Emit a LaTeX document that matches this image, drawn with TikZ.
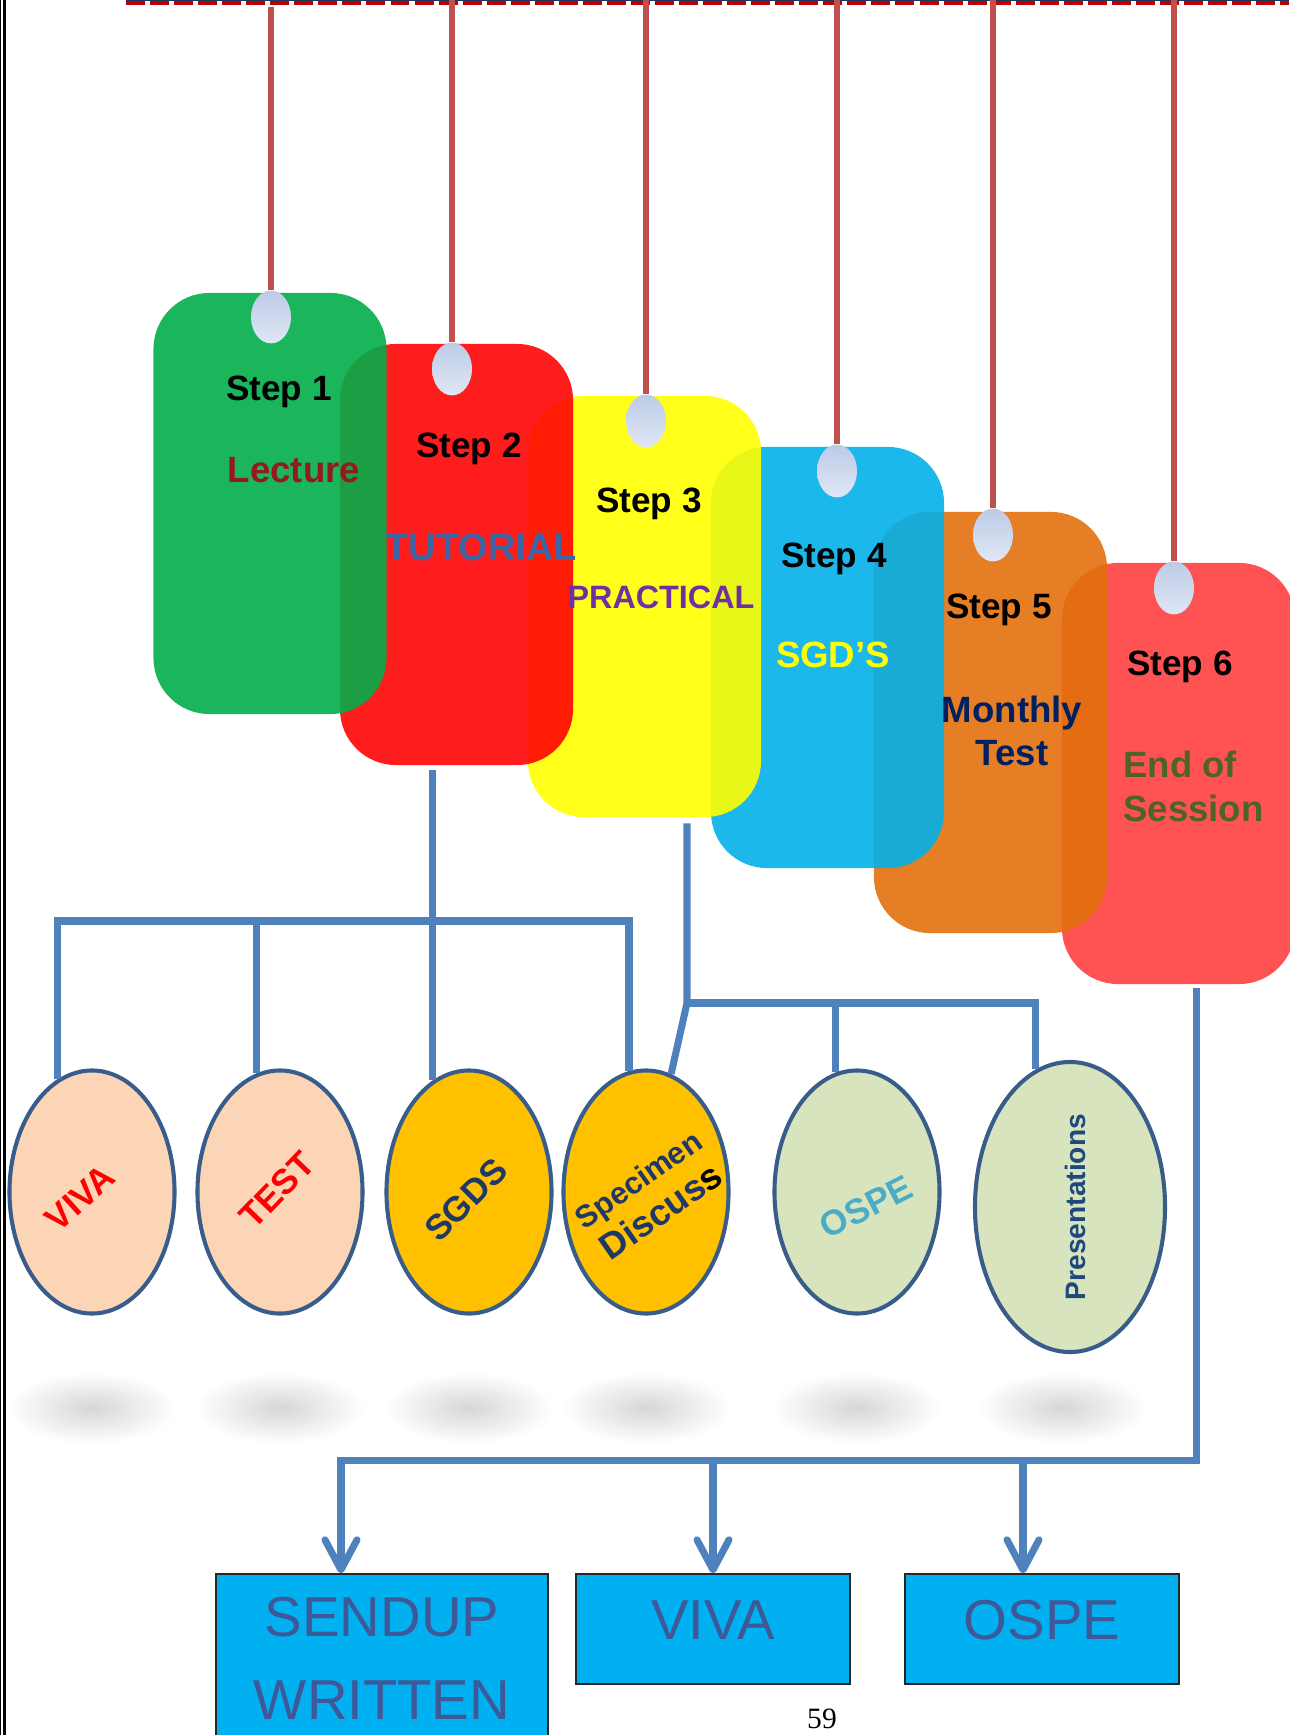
\documentclass[tikz,border=0pt]{standalone}
\usepackage{fontspec}
\setmainfont{Liberation Sans}
\newfontfamily\pagefont{Liberation Serif}
\usepackage{xcolor}
\usetikzlibrary{shapes,arrows.meta,positioning,calc}

\definecolor{tagGreen}{RGB}{2,173,74}
\definecolor{tagRed}{RGB}{255,3,3}
\definecolor{tagYellow}{RGB}{255,255,0}
\definecolor{tagCyan}{RGB}{3,176,234}
\definecolor{tagOrange}{RGB}{226,112,12}
\definecolor{tagRose}{RGB}{255,63,63}
\definecolor{holeTop}{RGB}{188,203,230}
\definecolor{holeBot}{RGB}{224,231,245}
\definecolor{strRed}{RGB}{192,80,77}
\definecolor{railRed}{RGB}{192,0,0}
\definecolor{railNavy}{RGB}{31,56,100}
\definecolor{lectRed}{RGB}{150,24,32}
\definecolor{tutBlue}{RGB}{62,102,165}
\definecolor{pracPurple}{RGB}{112,48,160}
\definecolor{navyTxt}{RGB}{0,32,96}
\definecolor{oliveTxt}{RGB}{79,98,40}
\definecolor{bubNavy}{RGB}{31,56,100}
\definecolor{ospeTeal}{RGB}{75,172,198}
\definecolor{presNavy}{RGB}{31,73,125}
\definecolor{linkBlue}{RGB}{79,129,189}
\definecolor{bubEdge}{RGB}{56,93,138}
\definecolor{peach}{RGB}{251,213,181}
\definecolor{amber}{RGB}{255,192,0}
\definecolor{sage}{RGB}{215,228,189}
\definecolor{resultFill}{RGB}{0,176,240}
\definecolor{boxText}{RGB}{62,88,152}

\begin{document}
\begin{tikzpicture}[
  x=0.025cm, y=-0.025cm,
  tagbox/.style={rectangle, rounded corners=1.4cm, minimum width=5.825cm,
                 minimum height=10.525cm, inner sep=0pt, fill opacity=0.9},
  hole/.style={ellipse, minimum width=1cm, minimum height=1.32cm, inner sep=0pt,
               top color=holeTop, bottom color=holeBot},
  cord/.style={draw=strRed, line width=4.2pt},
  steplabel/.style={anchor=base, inner sep=0pt, font=\fontsize{25}{30}\selectfont\bfseries},
  topic/.style={anchor=base, inner sep=0pt, font=\fontsize{26}{31}\selectfont\bfseries},
  bubble/.style={ellipse, draw=bubEdge, line width=2.9pt, minimum width=4.125cm,
                 minimum height=6.075cm, inner sep=0pt},
  bubtext/.style={inner sep=0pt, font=\fontsize{25}{30}\selectfont\bfseries},
  link/.style={draw=linkBlue, line width=5pt},
  feed/.style={link, -{Straight Barb[length=0.75cm, width=0.8cm, round]}},
  resultbox/.style={rectangle, draw=black!85, line width=0.9pt, fill=resultFill,
                    minimum width=6.85cm, minimum height=2.75cm, inner sep=0pt,
                    align=center, text=boxText, font=\fontsize{40}{59}\selectfont},
]
  \useasboundingbox (0,0) rectangle (1289,1735);

  % Page rule (left) and hanging rail (top)
  \draw[black, line width=0.7pt] (0.7,0) -- (0.7,1735);
  \draw[black, line width=1.8pt] (4.5,0) -- (4.5,1735);
  \draw[railNavy, line width=0.8pt] (126,0.5) -- (1289,0.5);
  \draw[railRed, line width=2.8pt, dash pattern=on 13.5pt off 3.6pt] (126,3) -- (1289,3);

  % Tags, back to front
  \node[tagbox, fill=tagRose]   (tag6) at (1178.5,773.5) {};
  \node[tagbox, fill=tagOrange] (tag5) at (990.5,722.5) {};
  \node[tagbox, fill=tagCyan]   (tag4) at (827.5,657.5) {};
  \node[tagbox, fill=tagYellow] (tag3) at (644.5,606.5) {};
  \node[tagbox, fill=tagRed]    (tag2) at (456.5,554.5) {};
  \node[tagbox, fill=tagGreen]  (tag1) at (270,503.5) {};

  % Strings and holes
  \coordinate (pin1) at (271,7);
  \coordinate (pin2) at (452,0);
  \coordinate (pin3) at (646,0);
  \coordinate (pin4) at (837,0);
  \coordinate (pin5) at (993,0);
  \coordinate (pin6) at (1174,0);
  \node[hole] (hole1) at (271,317) {};
  \node[hole] (hole2) at (452,369) {};
  \node[hole] (hole3) at (646,421) {};
  \node[hole] (hole4) at (837,471) {};
  \node[hole] (hole5) at (993,535) {};
  \node[hole] (hole6) at (1174,588) {};
  \draw[cord] (pin1) -- (hole1.north);
  \draw[cord] (pin2) -- (hole2.north);
  \draw[cord] (pin3) -- (hole3.north);
  \draw[cord] (pin4) -- (hole4.north);
  \draw[cord] (pin5) -- (hole5.north);
  \draw[cord] (pin6) -- (hole6.north);

  % Tag texts
  \node[steplabel] (step1) at (279,400) {Step 1};
  \node[topic, text=lectRed] (lecture) at (294,482) {Lecture};
  \node[steplabel] (step2) at (469,457) {Step 2};
  \node[topic, text=tutBlue, font=\fontsize{27}{32}\selectfont\bfseries] (tutorial) at (481,560) {TUTORIAL};
  \node[steplabel] (step3) at (649,512) {Step 3};
  \node[topic, text=pracPurple, font=\fontsize{23}{28}\selectfont\bfseries] (practical) at (661,608) {PRACTICAL};
  \node[steplabel] (step4) at (834,567) {Step 4};
  \node[topic, text=tagYellow] (sgd) at (833,667) {SGD’S};
  \node[steplabel] (step5) at (999,618) {Step 5};
  \node[topic, anchor=north, align=center, text=navyTxt,
        font=\fontsize{26}{30.6}\selectfont\bfseries] (monthly) at (1012,696) {Monthly\\Test};
  \node[steplabel] (step6) at (1180,675) {Step 6};
  \node[topic, anchor=north west, align=left, text=oliveTxt,
        font=\fontsize{26}{31.3}\selectfont\bfseries] (endsess) at (1123,751) {End of\\Session};

  % Ground shadows under the ovals
  \shade[inner color=black!16, outer color=white] (92,1408) ellipse [x radius=85, y radius=36];
  \shade[inner color=black!16, outer color=white] (280,1408) ellipse [x radius=85, y radius=36];
  \shade[inner color=black!16, outer color=white] (469,1408) ellipse [x radius=85, y radius=36];
  \shade[inner color=black!16, outer color=white] (646,1408) ellipse [x radius=85, y radius=36];
  \shade[inner color=black!16, outer color=white] (857,1408) ellipse [x radius=85, y radius=36];
  \shade[inner color=black!16, outer color=white] (1062,1408) ellipse [x radius=85, y radius=36];

  % Ovals
  \node[bubble, fill=peach] (vivaB) at (92,1192) {};
  \node[bubble, fill=peach] (testB) at (280,1192) {};
  \node[bubble, fill=amber] (sgdsB) at (469,1192) {};
  \node[bubble, fill=amber] (specB) at (646,1192) {};
  \node[bubble, fill=sage]  (ospeB) at (857,1192) {};
  \node[bubble, fill=sage, minimum width=4.75cm, minimum height=7.25cm] (presB) at (1070,1207) {};

  \node[bubtext, text=red, rotate=42] (vivaT) at (80,1198) {VIVA};
  \node[bubtext, text=red, rotate=46] (testT) at (277,1190) {TEST};
  \node[bubtext, text=bubNavy, rotate=45] (sgdsT) at (466,1200) {SGDS};
  \node[bubtext, text=bubNavy, rotate=35, align=center,
        font=\fontsize{23}{29}\selectfont\bfseries] (specT) at (650,1196)
       {{\fontsize{22}{29}\selectfont Specimen}\\
        {\fontsize{26}{29}\selectfont Discus\textcolor{black}{s}}};
  \node[bubtext, text=ospeTeal, rotate=27] (ospeT) at (866,1207) {OSPE};
  \node[bubtext, text=presNavy, rotate=90, font=\fontsize{20}{24}\selectfont\bfseries]
       (presT) at (1075,1207) {Presentations};

  % Tutorial branch
  \coordinate (busA) at (434,921);
  \draw[link] (vivaB.107) |- (specB.98 |- busA) -- (specB.98);
  \draw[link] (testB.101) -- (testB.101 |- busA);
  \draw[link] ([yshift=-0.12cm]tag2.south -| sgdsB.108) -- (sgdsB.108);

  % Practical branch
  \coordinate (busB) at (687,1003);
  \draw[link] ([yshift=-0.15cm]tag3.south -| busB) -- (busB) -- (specB.78);
  \draw[link] (busB) -| (presB.104);
  \draw[link] (ospeB.100) -- (ospeB.100 |- busB);

  % Final examination boxes
  \node[resultbox, minimum width=8.3cm, minimum height=4.225cm] (sendup) at (382,1658.5)
       {SENDUP\\WRITTEN};
  \node[resultbox, text depth=0.45cm] (viva2) at (713,1629) {VIVA};
  \node[resultbox, text depth=0.45cm] (ospe2) at (1042,1629) {OSPE};

  % End of session branch
  \coordinate (busC) at (1196,1460);
  \draw[feed] ([yshift=-0.1cm]tag6.south -| busC) -- (busC) -| ([xshift=-1.025cm]sendup.north);
  \draw[feed] (viva2.north |- busC) -- (viva2.north);
  \draw[feed] ([xshift=-0.475cm]ospe2.north |- busC) -- ([xshift=-0.475cm]ospe2.north);

  % Page number
  \node[anchor=base, inner sep=0pt, font=\pagefont\fontsize{21}{25}\selectfont] (pageno)
       at (822,1728) {59};

\end{tikzpicture}
\end{document}
